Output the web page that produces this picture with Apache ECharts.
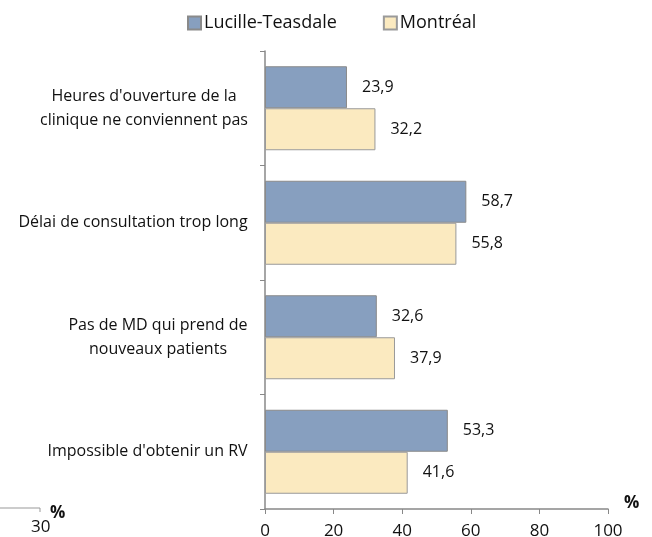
<!DOCTYPE html>
<html>
<head>
<meta charset="utf-8">
<script src="https://cdn.jsdelivr.net/npm/echarts@6/dist/echarts.min.js"></script>
<style>
  html, body { margin: 0; padding: 0; background: #fff; }
  #chart { width: 652px; height: 537px; }
</style>
</head>
<body>
<div id="chart"></div>
<script>
// catégories (de haut en bas)
const categories = [
  "Heures d'ouverture de la\nclinique ne conviennent pas",
  "Délai de consultation trop long",
  "Pas de MD qui prend de\nnouveaux patients",
  "Impossible d'obtenir un RV"
];
const lucilleTeasdale = [23.9, 58.7, 32.6, 53.3];
const montreal = [32.2, 55.8, 37.9, 41.6];
const xTicks = [0, 20, 40, 60, 80, 100];

const font = "'Open Sans', 'Liberation Sans', sans-serif";
const chart = echarts.init(document.getElementById("chart"));

// wrapped labels: block right-aligned on the axis, lines centred inside it
const ctx = document.createElement("canvas").getContext("2d");
ctx.font = "16px " + font;
const rich = {};
categories.forEach((c, i) => {
  const w = Math.max(...c.split("\n").map(l => ctx.measureText(l).width));
  rich["c" + i] = { width: Math.ceil(w), align: "center", fontSize: 16, lineHeight: 24, fontFamily: font, color: "#111" };
});

const labelStyle = {
  show: true,
  position: "right",
  distance: 15,
  color: "#111",
  fontSize: 16,
  fontFamily: font,
  formatter: p => String(p.value).replace(".", ",")
};

const option = {
  animation: false,
  legend: {
    top: 9,
    left: 182,
    itemWidth: 13,
    itemHeight: 13,
    itemGap: 46,
    icon: "rect",
    textStyle: { fontSize: 18, fontFamily: font, color: "#111", padding: [0, 0, 0, -2] },
    data: ["Lucille-Teasdale", "Montréal"]
  },
  grid: { left: 265, right: 44, top: 51, bottom: 28, containLabel: false, outerBoundsMode: "none" },
  xAxis: {
    type: "value",
    min: 0,
    max: 100,
    interval: 20,
    splitLine: { show: false },
    axisLine: { show: true, lineStyle: { color: "#888", width: 1.5 } },
    axisTick: { show: true, length: 5, lineStyle: { color: "#888" } },
    axisLabel: {
      margin: 14,
      fontSize: 17,
      fontFamily: font,
      color: "#111",
      customValues: xTicks
    }
  },
  yAxis: {
    type: "category",
    inverse: true,
    data: categories,
    axisLine: { show: true, lineStyle: { color: "#888", width: 1.5 } },
    axisTick: { show: true, length: 5, lineStyle: { color: "#888" } },
    axisLabel: {
      margin: 17,
      align: "right",
      fontSize: 16,
      lineHeight: 24,
      fontFamily: font,
      color: "#111",
      formatter: (v, i) => v.split("\n").map(l => "{c" + i + "|" + l + "}").join("\n"),
      rich: rich
    }
  },
  series: [
    {
      name: "Lucille-Teasdale",
      type: "bar",
      data: lucilleTeasdale,
      barWidth: 42,
      barGap: "0%",
      itemStyle: { color: "#879fbf", borderColor: "#8a8a8a", borderWidth: 1 },
      label: labelStyle
    },
    {
      name: "Montréal",
      type: "bar",
      data: montreal,
      barWidth: 42,
      itemStyle: { color: "#fbeac0", borderColor: "#9a9a9a", borderWidth: 1 },
      label: labelStyle
    }
  ],
  graphic: [
    {
      type: "text",
      left: 624,
      top: 495,
      style: { text: "%", fontSize: 17, fontWeight: "bold", fontFamily: font, fill: "#111" }
    },
    // fragment of neighbouring chart at bottom-left
    {
      type: "polyline",
      shape: { points: [[0, 508], [40, 508], [40, 512]] },
      style: { stroke: "#999", lineWidth: 1, fill: null }
    },
    {
      type: "text",
      left: 50,
      top: 505,
      style: { text: "%", fontSize: 17, fontWeight: "bold", fontFamily: font, fill: "#111" }
    },
    {
      type: "text",
      left: 31,
      top: 519,
      style: { text: "30", fontSize: 17, fontFamily: font, fill: "#111" }
    }
  ]
};

chart.setOption(option);
</script>
</body>
</html>
